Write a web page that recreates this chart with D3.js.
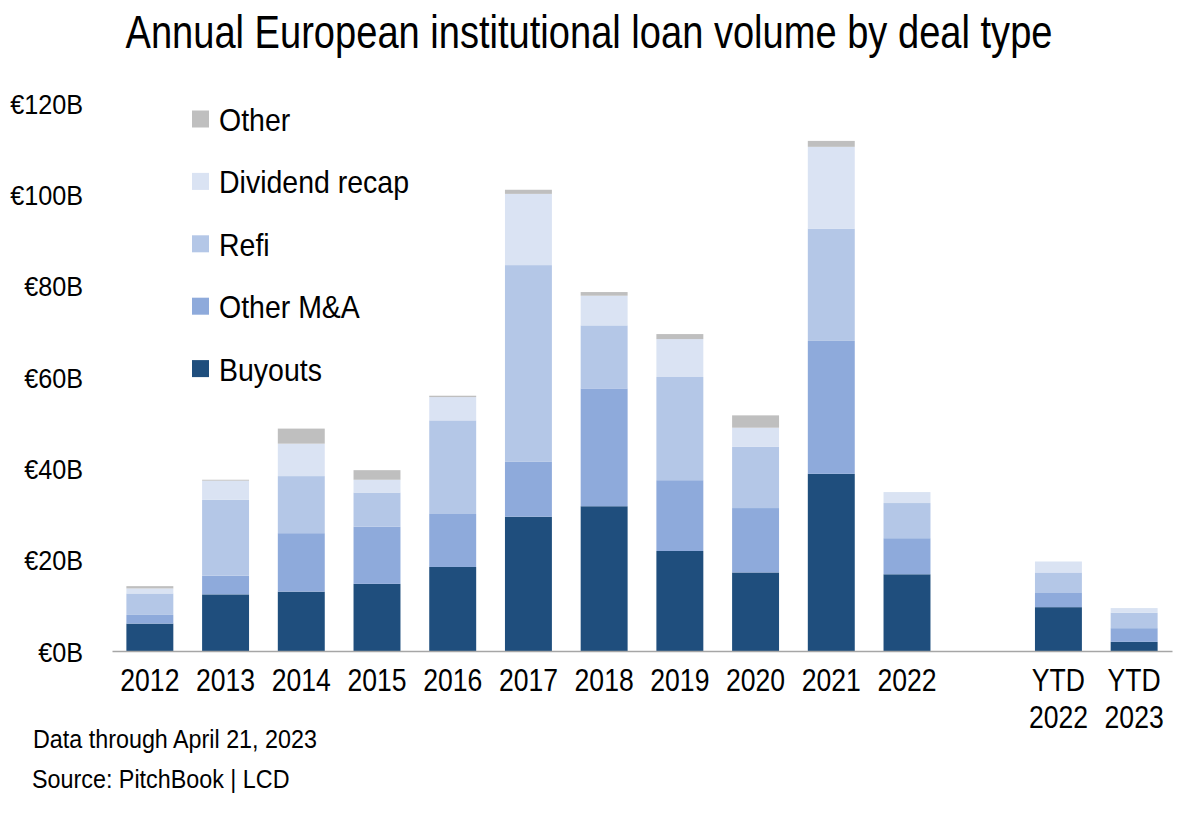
<!DOCTYPE html>
<html>
<head>
<meta charset="utf-8">
<script src="https://cdn.jsdelivr.net/npm/d3@7"></script>
<style>
  body { margin: 0; background: #fff; }
  svg text { font-family: "Liberation Sans", Arial, sans-serif; fill: #000; }
</style>
</head>
<body>
<svg id="chart" width="1200" height="818"></svg>
<script>
// categories, "" is the blank slot between 2022 and the YTD bars
var categories = ["2012", "2013", "2014", "2015", "2016", "2017", "2018", "2019", "2020", "2021", "2022", "", "YTD 2022", "YTD 2023"];
var seriesNames = ["Buyouts", "Other M&A", "Refi", "Dividend recap", "Other"];
var colors = ["#1f4e7d", "#8eaadb", "#b4c7e7", "#dae3f3", "#bfbfbf"];

// values in €B
var buyouts  = [6.0, 12.4, 13.0, 14.7, 18.4, 29.4, 31.7, 21.9, 17.2, 38.8, 16.8, 0, 9.6, 2.0];
var otherMA  = [1.9, 4.1, 12.8, 12.5, 11.6, 12.1, 25.8, 15.5, 14.1, 29.1, 7.9, 0, 3.1, 3.0];
var refi     = [4.7, 16.6, 12.5, 7.5, 20.5, 43.0, 13.8, 22.6, 13.4, 24.6, 7.7, 0, 4.5, 3.4];
var divRecap = [1.1, 4.2, 7.1, 2.8, 5.1, 15.6, 6.5, 8.3, 4.2, 17.9, 2.4, 0, 2.4, 1.0];
var other    = [0.5, 0.2, 3.3, 2.1, 0.3, 0.9, 0.8, 1.1, 2.7, 1.3, 0, 0, 0, 0];

var yTicks = [0, 20, 40, 60, 80, 100, 120];

var svg = d3.select("#chart");

// squeeze text horizontally, the original uses a narrow font
function squeeze(sel, k) {
    sel.each(function() {
        var w = this.getComputedTextLength();
        d3.select(this).attr("textLength", w * k).attr("lengthAdjust", "spacingAndGlyphs");
    });
}

var rows = categories.map(function(c, i) {
    return { cat: c, "Buyouts": buyouts[i], "Other M&A": otherMA[i], "Refi": refi[i],
             "Dividend recap": divRecap[i], "Other": other[i] };
});

var x = d3.scaleBand().domain(categories).range([112, 1172]).paddingInner(0.38).paddingOuter(0.19);
var y = d3.scaleLinear().domain([0, 120]).range([651, 103]);

var stack = d3.stack().keys(seriesNames);
var layers = stack(rows);

// title
svg.append("text")
    .attr("x", 589).attr("y", 48)
    .attr("text-anchor", "middle")
    .style("font-size", "47px")
    .text("Annual European institutional loan volume by deal type")
    .call(squeeze, 0.81);

// bars
svg.append("g").selectAll("g")
    .data(layers)
    .enter().append("g")
    .attr("fill", function(d, i) { return colors[i]; })
    .selectAll("rect")
    .data(function(d) { return d.filter(function(p) { return p.data.cat !== "" && p[1] > p[0]; }); })
    .enter().append("rect")
    .attr("x", function(d) { return x(d.data.cat); })
    .attr("width", x.bandwidth())
    .attr("y", function(d) { return y(d[1]); })
    .attr("height", function(d) { return y(d[0]) - y(d[1]); });

// y axis labels, no line
var yAxis = svg.append("g")
    .attr("transform", "translate(83,0)")
    .call(d3.axisLeft(y).tickValues(yTicks).tickSize(0).tickPadding(0)
        .tickFormat(function(d) { return "€" + d + "B"; }));
yAxis.select(".domain").remove();
yAxis.selectAll("text").style("font-size", "28px").attr("dy", "0.36em").attr("fill", "#000")
    .call(squeeze, 0.9);

// x axis baseline
var xAxis = svg.append("g")
    .attr("transform", "translate(0," + y(0) + ")")
    .call(d3.axisBottom(x).tickSize(0).tickPadding(0).tickFormat(""));
xAxis.select(".domain").attr("stroke", "#a6a6a6").attr("stroke-width", 1.5);

// x labels, YTD ones on two lines
var xLines = [];
categories.forEach(function(c) {
    if (c === "") return;
    c.split(" ").forEach(function(p, i) { xLines.push({ cat: c, text: p, line: i }); });
});
svg.append("g").selectAll("text")
    .data(xLines)
    .enter().append("text")
    .attr("text-anchor", "middle")
    .attr("x", function(d) { return x(d.cat) + x.bandwidth() / 2; })
    .attr("y", function(d) { return 691 + d.line * 37; })
    .style("font-size", "32px")
    .text(function(d) { return d.text; })
    .call(squeeze, 0.83);

// legend
var legendOrder = ["Other", "Dividend recap", "Refi", "Other M&A", "Buyouts"];
var lg = svg.append("g").selectAll("g")
    .data(legendOrder)
    .enter().append("g")
    .attr("transform", function(d, i) { return "translate(192," + (119.5 + i * 62.4) + ")"; });
lg.append("rect")
    .attr("x", 0).attr("y", -9).attr("width", 17).attr("height", 17)
    .attr("fill", function(d) { return colors[seriesNames.indexOf(d)]; });
lg.append("text")
    .attr("x", 27).attr("y", 0).attr("dy", "0.36em")
    .style("font-size", "32px")
    .text(function(d) { return d; })
    .call(squeeze, 0.89);

// footer
svg.append("text").attr("x", 33).attr("y", 748).style("font-size", "26.5px")
    .text("Data through April 21, 2023").call(squeeze, 0.88);
svg.append("text").attr("x", 32).attr("y", 788).style("font-size", "26.5px")
    .text("Source: PitchBook | LCD").call(squeeze, 0.88);
</script>
</body>
</html>
